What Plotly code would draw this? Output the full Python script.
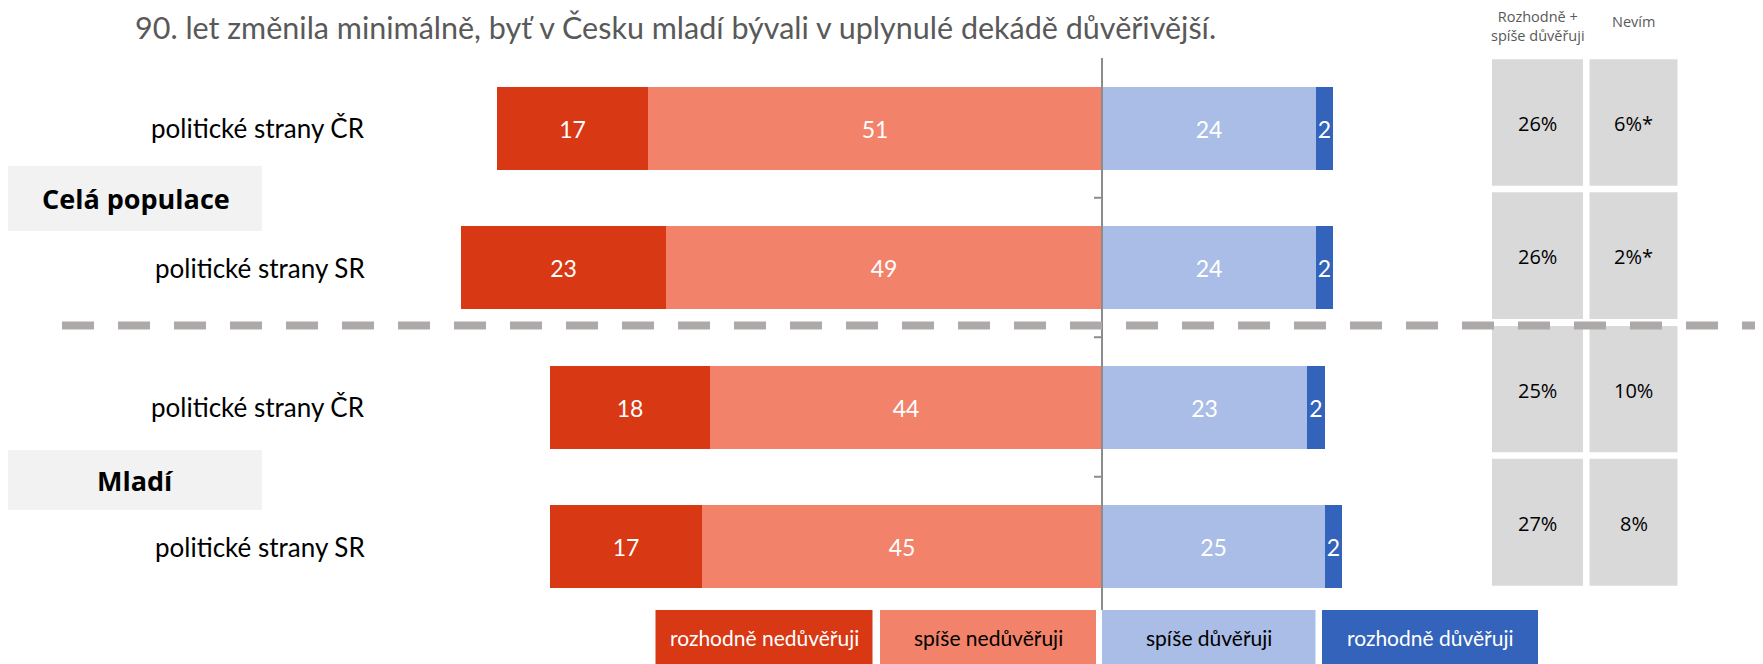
import plotly.graph_objects as go

# ---------------- data ----------------
row_labels = ["politické strany ČR", "politické strany SR", "politické strany ČR", "politické strany SR"]
rozhodne_neduveruji = [17, 23, 18, 17]
spise_neduveruji = [51, 49, 44, 45]
spise_duveruji = [24, 24, 23, 25]
rozhodne_duveruji = [2, 2, 2, 2]
duveruji_celkem = ["26%", "26%", "25%", "27%"]
nevim = ["6%*", "2%*", "10%", "8%"]
groups = ["Celá populace", "Mladí"]
legend_labels = ["rozhodně nedůvěřuji", "spíše nedůvěřuji", "spíše důvěřuji", "rozhodně důvěřuji"]
table_headers = ["Rozhodně +<br>spíše důvěřuji", "Nevím"]
title_text = "90. let změnila minimálně, byť v Česku mladí bývali v uplynulé dekádě důvěřivější."

# ---------------- styles ----------------
C_RN = "#D93815"
C_SN = "#F2826A"
C_SD = "#A9BDE6"
C_RD = "#3363BA"
MAIN_FONT = "Lato"
CAL_FONT = "Open Sans"

# page is 1763x664; the html body has an 8px margin, so the figure is offset
OFF = 8
FW, FH = 1763 - OFF, 664 - OFF

ypos = list(range(len(row_labels)))

def px(x):
    return (x - OFF) / FW

def py(y):
    return 1 - (y - OFF) / FH

ZERO_PX = 1102.0 - OFF
UNIT_PX = 8.9
Y0_PX = 128.0 - OFF
ROW_PX = 139.5

xrange_ = [-ZERO_PX / UNIT_PX, (FW - ZERO_PX) / UNIT_PX]
yrange_ = [(FH - Y0_PX) / ROW_PX, -Y0_PX / ROW_PX]

fig = go.Figure()

def add_bar(vals, sign, color, name):
    fig.add_trace(go.Bar(
        x=[sign * v for v in vals], y=ypos, orientation="h", width=0.595,
        marker=dict(color=color, line=dict(width=0)),
        text=[str(v) for v in vals], texttemplate="%{text}",
        textposition="inside", insidetextanchor="middle", textangle=0,
        textfont=dict(color="white", size=23, family=MAIN_FONT),
        name=name, showlegend=False, hoverinfo="skip",
    ))

add_bar(spise_neduveruji, -1, C_SN, legend_labels[1])
add_bar(rozhodne_neduveruji, -1, C_RN, legend_labels[0])
add_bar(spise_duveruji, 1, C_SD, legend_labels[2])
add_bar(rozhodne_duveruji, 1, C_RD, legend_labels[3])

shapes = []
annotations = []

# title (second line of a cropped headline)
annotations.append(dict(
    x=px(134), y=1.0, xref="paper", yref="paper", xanchor="left", yanchor="top",
    text=title_text, showarrow=False, borderpad=0,
    font=dict(family=MAIN_FONT, size=30.5, color="#595959"),
))

# category labels
for k, lab in enumerate(row_labels):
    annotations.append(dict(
        x=px(367), y=ypos[k], xref="paper", yref="y", xanchor="right", yanchor="middle",
        text=lab, showarrow=False, font=dict(family=MAIN_FONT, size=26, color="black"),
    ))

# group label boxes
group_boxes = [(166, 231), (450, 510)]
for g, (y0, y1) in zip(groups, group_boxes):
    shapes.append(dict(type="rect", xref="paper", yref="paper", x0=px(8), x1=px(262),
                       y0=py(y1), y1=py(y0), fillcolor="#F2F2F2", line=dict(width=0), layer="below"))
    annotations.append(dict(
        x=px(136), y=py((y0 + y1) / 2), xref="paper", yref="paper", xanchor="center", yanchor="middle",
        text="<b>" + g + "</b>", showarrow=False, font=dict(family=CAL_FONT, size=27, color="black"),
    ))

# right-hand table
col_px = [(1492, 1583), (1589.5, 1677.5)]
row_px = [(59.3, 185.7), (192.3, 319), (326, 452.3), (458.7, 585.7)]
for c, values in enumerate([duveruji_celkem, nevim]):
    x0, x1 = col_px[c]
    for r, (y0, y1) in enumerate(row_px):
        shapes.append(dict(type="rect", xref="paper", yref="paper", x0=px(x0), x1=px(x1),
                           y0=py(y1), y1=py(y0), fillcolor="#D9D9D9", line=dict(width=0), layer="below"))
        annotations.append(dict(
            x=px((x0 + x1) / 2), y=py((y0 + y1) / 2 + 1), xref="paper", yref="paper",
            xanchor="center", yanchor="middle", text=values[r], showarrow=False,
            font=dict(family=CAL_FONT, size=20, color="black"),
        ))
header_y = [25.5, 21.7]
for c, htxt in enumerate(table_headers):
    x0, x1 = col_px[c]
    annotations.append(dict(
        x=px((x0 + x1) / 2), y=py(header_y[c]), xref="paper", yref="paper",
        xanchor="center", yanchor="middle", text=htxt, showarrow=False,
        font=dict(family=CAL_FONT, size=14.5, color="#595959"),
    ))

# zero line and ticks
shapes.append(dict(type="line", xref="x", yref="paper", x0=0, x1=0, y0=py(58), y1=py(610),
                   line=dict(color="#8C8C8C", width=2), layer="above"))
for b in [0.5, 1.5, 2.5]:
    shapes.append(dict(type="line", xref="paper", yref="y", x0=px(1094), x1=px(1101),
                       y0=b, y1=b, line=dict(color="#8C8C8C", width=2), layer="above"))

# dashed separator
shapes.append(dict(type="line", xref="paper", yref="paper", x0=px(62), x1=1.0,
                   y0=py(325.5), y1=py(325.5),
                   line=dict(color="#ADA9A9", width=8, dash="32px,24px"), layer="above"))

# legend boxes
leg_px = [(655.5, 872.5), (880, 1096), (1102, 1315.5), (1322, 1538)]
leg_colors = [C_RN, C_SN, C_SD, C_RD]
leg_text_colors = ["white", "black", "black", "white"]
for (x0, x1), col, tc, lab in zip(leg_px, leg_colors, leg_text_colors, legend_labels):
    shapes.append(dict(type="rect", xref="paper", yref="paper", x0=px(x0), x1=px(x1),
                       y0=py(664), y1=py(610), fillcolor=col, line=dict(width=0), layer="above"))
    annotations.append(dict(
        x=px((x0 + x1) / 2), y=py(637), xref="paper", yref="paper", xanchor="center", yanchor="middle",
        text=lab, showarrow=False, font=dict(family=MAIN_FONT, size=21, color=tc),
    ))

fig.update_layout(
    width=FW, height=FH, margin=dict(l=0, r=0, t=0, b=0),
    paper_bgcolor="white", plot_bgcolor="white",
    barmode="relative", bargap=0,
    xaxis=dict(range=xrange_, visible=False, fixedrange=True),
    yaxis=dict(range=yrange_, visible=False, fixedrange=True),
    shapes=shapes, annotations=annotations,
    uniformtext=dict(minsize=22, mode="show"),
    showlegend=False,
)

fig.write_html("out.html")
